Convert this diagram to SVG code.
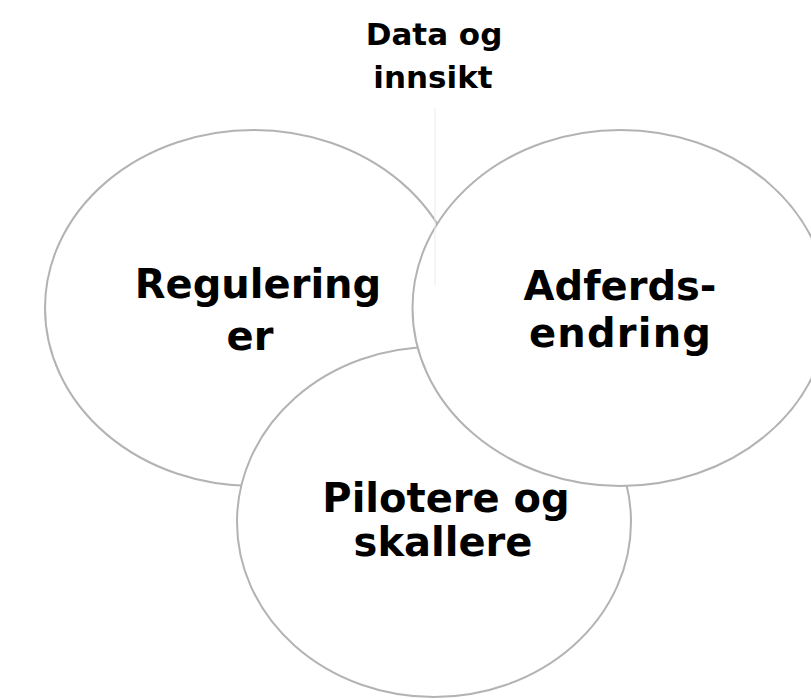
<svg xmlns="http://www.w3.org/2000/svg" width="811" height="699" viewBox="0 0 811 699">
<style>
.c{fill:#ffffff;stroke:#b3b3b3;stroke-width:2}
.t{font-family:"DejaVu Sans","Liberation Sans",sans-serif;font-weight:bold;fill:#000000;text-anchor:middle}
.big{font-size:40px}
.small{font-size:31px}
</style>
<rect width="811" height="699" fill="#ffffff"/>
<g id="regulering">
<ellipse class="c" cx="253.5" cy="308" rx="208.5" ry="178"/>
<text class="t big" x="258" y="298">Regulering</text>
<text class="t big" x="250" y="350">er</text>
</g>
<g id="pilotere">
<ellipse class="c" cx="434" cy="522" rx="197" ry="175"/>
<text class="t big" x="446" y="512">Pilotere og</text>
<text class="t big" x="443" y="556">skallere</text>
</g>
<g id="adferd">
<ellipse class="c" cx="620.5" cy="308" rx="208" ry="178"/>
<text class="t big" x="620" y="300">Adferds-</text>
<text class="t big" x="620" y="347" textLength="182" lengthAdjust="spacing">endring</text>
</g>
<g id="connectors">
<line x1="435" y1="108" x2="435" y2="285" stroke="#ebebeb" stroke-width="1"/>
</g>
<g id="data">
<text class="t small" x="434" y="45">Data og</text>
<text class="t small" x="433" y="88">innsikt</text>
</g>
</svg>
